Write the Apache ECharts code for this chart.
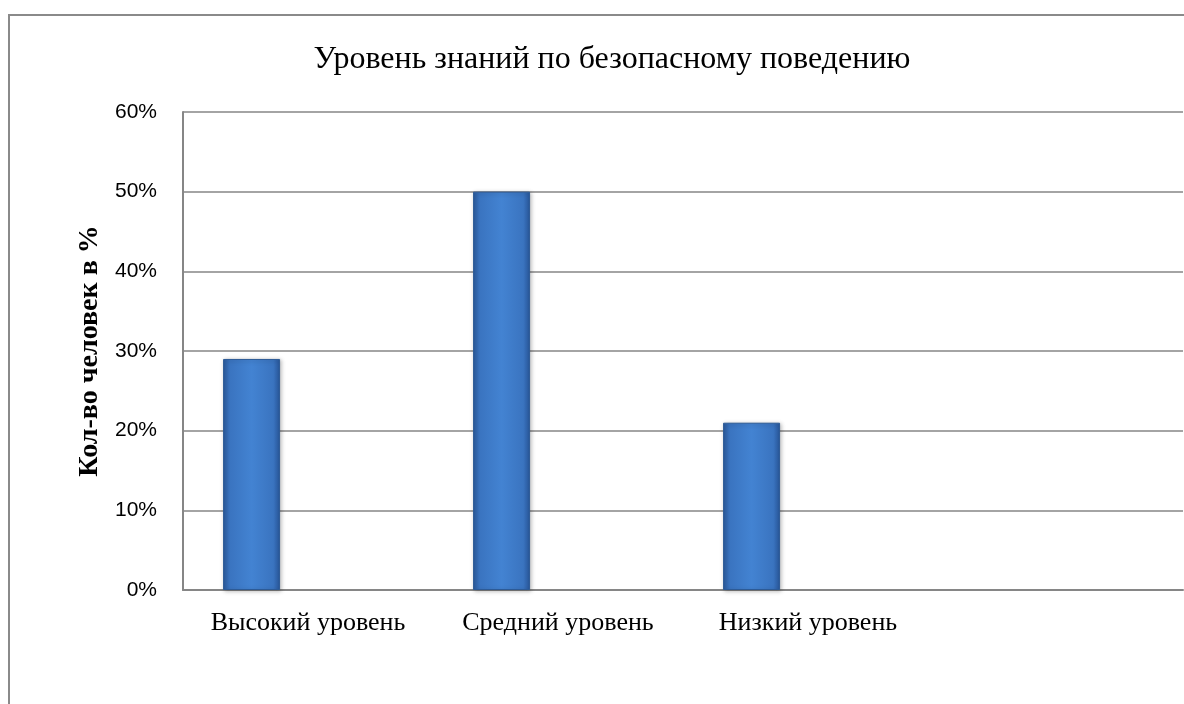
<!DOCTYPE html>
<html>
<head>
<meta charset="utf-8">
<script src="https://cdn.jsdelivr.net/npm/echarts@6/dist/echarts.min.js"></script>
<style>
  html, body { margin: 0; padding: 0; background: #fff; }
  #chart { width: 1184px; height: 704px; }
</style>
</head>
<body>
<div id="chart"></div>
<script>
// Categories (the fourth slot is left empty, as in the source workbook)
const categories = ['Высокий уровень', 'Средний уровень', 'Низкий уровень', ''];
// Share of pupils per knowledge level, %
const levelValues = [29, 50, 21, null];
// Empty companion series that keeps bars at the left of each slot
const emptyValues = [null, null, null, null];
const yTicks = { min: 0, max: 60, interval: 10 };

const chart = echarts.init(document.getElementById('chart'));

const barFill = new echarts.graphic.LinearGradient(0, 0, 1, 0, [
  { offset: 0, color: '#2a5a9c' },
  { offset: 0.12, color: '#3a74c0' },
  { offset: 0.5, color: '#4383d2' },
  { offset: 0.88, color: '#3a74c0' },
  { offset: 1, color: '#28569a' }
]);

chart.setOption({
  animation: false,
  backgroundColor: '#ffffff',
  title: {
    text: 'Уровень знаний по безопасному поведению',
    left: 607,
    textAlign: 'center',
    top: 39,
    textStyle: {
      fontFamily: 'Liberation Serif',
      fontSize: 32,
      fontWeight: 'normal',
      color: '#000'
    }
  },
  graphic: [{
    type: 'rect',
    shape: { x: 9, y: 15, width: 1200, height: 720 },
    style: { fill: 'none', stroke: '#8a8a8a', lineWidth: 2 },
    silent: true
  }],
  grid: { left: 183, right: 1, top: 112, bottom: 114 },
  xAxis: {
    type: 'category',
    data: categories,
    axisLine: { lineStyle: { color: '#868686', width: 2 } },
    axisTick: { show: false },
    axisLabel: {
      fontFamily: 'Liberation Serif',
      fontSize: 26,
      color: '#000',
      margin: 20,
      interval: 0
    }
  },
  yAxis: {
    type: 'value',
    min: yTicks.min,
    max: yTicks.max,
    interval: yTicks.interval,
    name: 'Кол-во человек в %',
    nameLocation: 'middle',
    nameRotate: 90,
    nameGap: 74,
    nameTextStyle: {
      fontFamily: 'Liberation Serif',
      fontSize: 28,
      fontWeight: 'bold',
      color: '#000'
    },
    axisLine: { show: true, lineStyle: { color: '#868686', width: 2 } },
    axisTick: { show: false },
    splitLine: { lineStyle: { color: '#868686', width: 1.5 } },
    axisLabel: {
      formatter: '{value}%',
      fontFamily: 'Liberation Sans',
      fontSize: 21,
      color: '#000',
      margin: 26
    }
  },
  series: [
    {
      type: 'bar',
      data: levelValues,
      barWidth: 57,
      barGap: '98%',
      itemStyle: {
        color: barFill,
        borderColor: '#2c5a96',
        borderWidth: 1,
        shadowColor: 'rgba(0,0,0,0.25)',
        shadowBlur: 4,
        shadowOffsetX: 1,
        shadowOffsetY: 1
      }
    },
    {
      type: 'bar',
      data: emptyValues,
      barWidth: 57
    }
  ]
});
</script>
</body>
</html>
